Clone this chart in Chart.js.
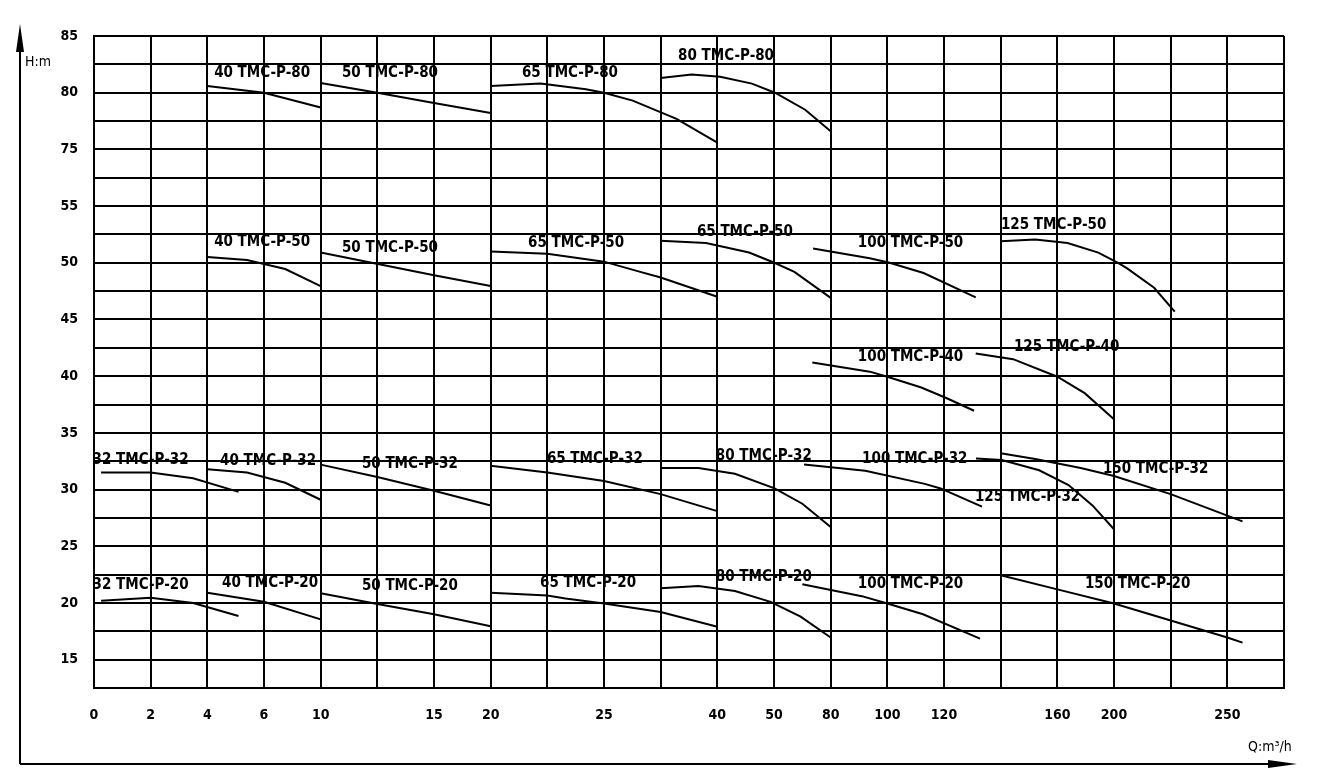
<!DOCTYPE html>
<html>
<head>
<meta charset="utf-8">
<script src="https://cdn.jsdelivr.net/npm/chart.js@4"></script>
<style>
  html, body { margin: 0; padding: 0; background: #fff; }
  #wrap { width: 1320px; height: 782px; }
</style>
</head>
<body>
<div id="wrap"><canvas id="myChart" width="1320" height="782"></canvas></div>
<script>
// flow axis is broken into unequal steps: tick value -> grid column
const qTicks = [0, 2, 4, 6, 10, 15, 20, 25, 40, 50, 80, 100, 120, 160, 200, 250];
const qCols  = [0, 1, 2, 3, 4, 6, 7, 9, 11, 12, 13, 14, 15, 17, 18, 20];
// head axis labels (55 -> 75 is cut out)
const hTicks = [15, 20, 25, 30, 35, 40, 45, 50, 55, 75, 80, 85];

// curves, [Q m3/h, H m]
const c40_80  = [[4, 80.6], [6, 80.0], [10, 78.7]];
const c50_80  = [[10, 80.85], [12.5, 80.0], [15, 79.1], [20, 78.2]];
const c65_80  = [[20, 80.6], [22.2, 80.8], [24.2, 80.3], [25, 80.0], [28.8, 79.3], [34.6, 77.7], [40, 75.6]];
const c80_80  = [[32.5, 81.3], [36.6, 81.6], [40.5, 81.4], [46.1, 80.8], [50.5, 80.0], [66.5, 78.5], [80, 76.6]];

const c40_50  = [[4, 50.5], [5.4, 50.25], [7.5, 49.45], [10, 47.95]];
const c50_50  = [[10, 50.9], [15, 48.9], [20, 47.95]];
const c65_50  = [[20, 51.0], [22.5, 50.8], [25, 50.1], [29.8, 49.2], [32.5, 48.7], [40, 47.0]];
const c80_50  = [[32.5, 51.95], [38.5, 51.75], [45.6, 50.9], [50.2, 50.0], [60.8, 49.2], [80, 46.9]];
const c100_50 = [[70.7, 51.25], [93.8, 50.4], [100.8, 50.0], [112.8, 49.1], [131.2, 46.95]];
const c125_50 = [[140, 51.9], [152.2, 52.05], [167.2, 51.75], [188.9, 50.9], [201.8, 50.0], [205.8, 49.5], [217.7, 47.8], [226.8, 45.7]];
const c100_40 = [[70.3, 41.2], [93.8, 40.4], [100, 39.95], [112, 39.0], [121, 38.05], [130.6, 36.95]];
const c125_40 = [[131.2, 42.0], [144.4, 41.5], [160, 39.95], [179.3, 38.5], [200, 36.2]];

const c32_32  = [[0.25, 31.5], [2, 31.5], [3.5, 31.0], [5.1, 29.8]];
const c40_32  = [[4, 31.8], [5.4, 31.5], [7.5, 30.6], [10, 29.1]];
const c50_32  = [[10, 32.2], [12.5, 31.1], [15, 29.9], [20, 28.6]];
const c65_32  = [[20, 32.1], [22.5, 31.5], [25, 30.75], [32.5, 29.6], [40, 28.1]];
const c80_32  = [[32.5, 31.9], [37.5, 31.9], [43.1, 31.4], [50.3, 30.1], [65, 28.75], [80, 26.7]];
const c100_32 = [[65.9, 32.2], [92.2, 31.65], [113.2, 30.5], [118.8, 30.1], [133.4, 28.5]];
const c125_32 = [[131.3, 32.75], [140.4, 32.6], [153.6, 31.7], [167.9, 30.4], [184.8, 28.6], [200, 26.5]];
const c150_32 = [[140, 33.2], [152.2, 32.7], [176.5, 31.9], [200, 31.2], [225, 29.6], [250, 27.7], [256.7, 27.2]];

const c32_20  = [[0.25, 20.2], [2, 20.45], [3.5, 20.0], [5.1, 18.85]];
const c40_20  = [[4, 20.9], [6, 20.1], [10, 18.55]];
const c50_20  = [[10, 20.85], [12.5, 19.9], [15, 19.0], [20, 17.95]];
const c65_20  = [[20, 20.9], [22.5, 20.65], [23.3, 20.4], [25, 19.95], [32.5, 19.2], [40, 17.9]];
const c80_20  = [[32.5, 21.3], [37.5, 21.5], [43.1, 21.05], [49.4, 20.1], [64.1, 18.8], [80, 16.95]];
const c100_20 = [[65, 21.65], [91, 20.6], [100, 19.95], [112.6, 19.0], [132.7, 16.85]];
const c150_20 = [[140, 22.45], [160, 21.2], [200, 19.95], [250, 16.95], [256.7, 16.5]];

const seriesNames = [
  '40 TMC-P-80', '50 TMC-P-80', '65 TMC-P-80', '80 TMC-P-80',
  '40 TMC-P-50', '50 TMC-P-50', '65 TMC-P-50', '65 TMC-P-50', '100 TMC-P-50', '125 TMC-P-50',
  '100 TMC-P-40', '125 TMC-P-40',
  '32 TMC-P-32', '40 TMC-P-32', '50 TMC-P-32', '65 TMC-P-32', '80 TMC-P-32', '100 TMC-P-32', '125 TMC-P-32', '150 TMC-P-32',
  '32 TMC-P-20', '40 TMC-P-20', '50 TMC-P-20', '65 TMC-P-20', '80 TMC-P-20', '100 TMC-P-20', '150 TMC-P-20'
];
const seriesData = [
  c40_80, c50_80, c65_80, c80_80,
  c40_50, c50_50, c65_50, c80_50, c100_50, c125_50,
  c100_40, c125_40,
  c32_32, c40_32, c50_32, c65_32, c80_32, c100_32, c125_32, c150_32,
  c32_20, c40_20, c50_20, c65_20, c80_20, c100_20, c150_20
];
// where each curve name sits, [Q, H]
const labelAt = [
  [4.24, 81.7], [10.94, 81.7], [21.38, 81.7], [34.8, 83.2],
  [4.24, 51.8], [10.94, 51.3], [21.65, 51.75], [37.3, 52.7], [89.6, 51.75], [140.1, 53.3],
  [89.6, 41.7], [144.7, 42.55],
  [-0.05, 32.6], [4.45, 32.5], [11.82, 32.25], [22.48, 32.7], [39.8, 32.95], [91.1, 32.7], [130.9, 29.35], [192.2, 31.8],
  [-0.05, 21.6], [4.52, 21.75], [11.82, 21.5], [22.18, 21.75], [39.8, 22.3], [89.6, 21.65], [179.5, 21.65]
];

function qToCol(q) {
  for (let i = 1; i < qTicks.length; i++) {
    if (q <= qTicks[i] || i === qTicks.length - 1) {
      const t = (q - qTicks[i - 1]) / (qTicks[i] - qTicks[i - 1]);
      return qCols[i - 1] + t * (qCols[i] - qCols[i - 1]);
    }
  }
}
function hToPos(h) { return h >= 60 ? h - 15 : h; }
function posToH(p) { return p >= 60 ? p + 15 : p; }

const FONT = '"DejaVu Sans Condensed", "DejaVu Sans", sans-serif';

const datasets = seriesData.map((pts, i) => ({
  label: seriesNames[i],
  data: pts.map(p => ({ x: qToCol(p[0]), y: hToPos(p[1]) })),
  showLine: true,
  borderColor: '#000',
  borderWidth: 2,
  pointRadius: 0,
  tension: 0,
  fill: false
}));

const decor = {
  id: 'decor',
  afterDatasetsDraw(chart) {
    const ctx = chart.ctx;
    const xs = chart.scales.x, ys = chart.scales.y;
    ctx.save();
    ctx.fillStyle = '#000';
    ctx.font = 'bold 15px ' + FONT;
    ctx.textAlign = 'left';
    ctx.textBaseline = 'middle';
    seriesNames.forEach((name, i) => {
      const x = xs.getPixelForValue(qToCol(labelAt[i][0]));
      const y = ys.getPixelForValue(hToPos(labelAt[i][1]));
      ctx.fillText(name, x, y);
    });

    // outer axes with arrows
    ctx.strokeStyle = '#000';
    ctx.lineWidth = 2;
    ctx.beginPath();
    ctx.moveTo(20, 764);
    ctx.lineTo(20, 40);
    ctx.moveTo(20, 764);
    ctx.lineTo(1280, 764);
    ctx.stroke();
    ctx.beginPath();
    ctx.moveTo(20, 24); ctx.lineTo(16, 52); ctx.lineTo(24, 52); ctx.closePath();
    ctx.fill();
    ctx.beginPath();
    ctx.moveTo(1297, 764); ctx.lineTo(1268, 760); ctx.lineTo(1268, 768); ctx.closePath();
    ctx.fill();

    ctx.font = '14px ' + FONT;
    ctx.textBaseline = 'middle';
    ctx.fillText('H:m', 25, 62);
    ctx.fillText('Q:m³/h', 1248, 747);
    ctx.restore();
  }
};

new Chart(document.getElementById('myChart').getContext('2d'), {
  type: 'scatter',
  data: { datasets: datasets },
  options: {
    responsive: false,
    animation: false,
    layout: { padding: { left: 0, right: 36, top: 36, bottom: 0 } },
    plugins: { legend: { display: false }, tooltip: { enabled: false } },
    scales: {
      x: {
        type: 'linear',
        min: 0,
        max: 21,
        afterBuildTicks: s => { s.ticks = Array.from({ length: 22 }, (_, i) => ({ value: i })); },
        afterFit: s => { s.height = 94; },
        grid: { color: '#000', lineWidth: 2, drawTicks: false },
        border: { color: '#000', width: 2 },
        ticks: {
          autoSkip: false,
          maxRotation: 0,
          padding: 19,
          color: '#000',
          font: { family: FONT, size: 14, weight: 'bold' },
          callback: v => {
            const k = qCols.indexOf(v);
            return k >= 0 ? String(qTicks[k]) : '';
          }
        }
      },
      y: {
        type: 'linear',
        min: 12.5,
        max: 70,
        afterBuildTicks: s => {
          const t = [];
          for (let v = 12.5; v <= 70.01; v += 2.5) t.push({ value: v });
          s.ticks = t;
        },
        afterFit: s => { s.width = 94; },
        grid: { color: '#000', lineWidth: 2, drawTicks: false },
        border: { color: '#000', width: 2 },
        ticks: {
          autoSkip: false,
          padding: 16,
          color: '#000',
          font: { family: FONT, size: 14, weight: 'bold' },
          callback: v => {
            const h = posToH(v);
            return hTicks.includes(h) ? String(h) : '';
          }
        }
      }
    }
  },
  plugins: [decor]
});
</script>
</body>
</html>
